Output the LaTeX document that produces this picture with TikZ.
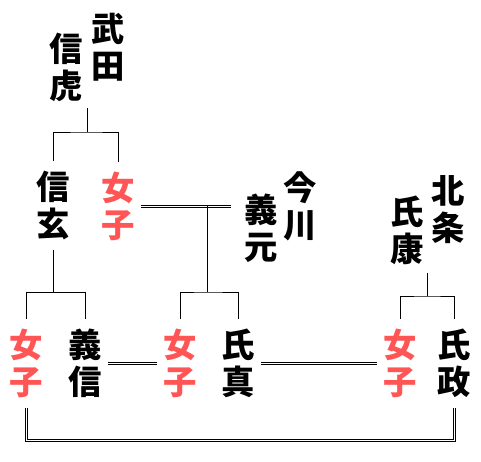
\documentclass[tikz,border=0pt]{standalone}
\usepackage{fontspec}
\newfontfamily\jpfont{Noto Sans CJK JP}
\definecolor{onnared}{RGB}{255,85,85}
\begin{document}
\begin{tikzpicture}[x=0.75pt,y=-0.75pt,line width=0.75pt,
		mei/.style={font=\jpfont\bfseries\fontsize{25}{27.75}\selectfont, align=center, inner xsep=4.5pt, inner ysep=0pt, minimum height=66pt},
		onna/.style={mei, text=onnared},
		kon/.style={draw, line width=0.75pt, double, double distance=0.75pt}]
	\useasboundingbox (0,0) rectangle (481,461);
	% Takeda
	\node[mei] (takeda) at (108,47) {武\\田};
	\node[mei] (nobutora) at (66,67) {信\\虎};
	\node[mei] (shingen) at (53,205.5) {信\\玄};
	\node[onna] (onnaA) at (118,206) {女\\子};
	% Imagawa, Hojo
	\node[mei] (imagawa) at (300,206) {今\\川};
	\node[mei] (yoshimoto) at (261,228) {義\\元};
	\node[mei] (hojo) at (448,210) {北\\条};
	\node[mei] (ujiyasu) at (407,230) {氏\\康};
	% children
	\node[onna] (onnaB) at (26,363) {女\\子};
	\node[mei] (yoshinobu) at (85,363) {義\\信};
	\node[onna] (onnaC) at (180,363) {女\\子};
	\node[mei] (ujizane) at (238,363) {氏\\真};
	\node[onna] (onnaD) at (400,363) {女\\子};
	\node[mei] (ujimasa) at (454,363) {氏\\政};
	% lines
	\coordinate (torafork) at (87,132);
	\draw (torafork) -- ++(0,-24);
	\draw (shingen.north) |- (torafork) -| (onnaA.north);
	\draw (shingen.south) -- ++(0,42.5) coordinate (genfork);
	\draw (onnaB.north) |- (genfork) -| (yoshinobu.north);
	\coordinate (imafork) at (207,292);
	\draw[kon] (onnaA.east) -- ([xshift=-5pt]onnaA.east -| yoshimoto.west);
	\draw (imafork |- onnaA.east) -- (imafork);
	\draw (onnaC.north) |- (imafork) -| (ujizane.north);
	\coordinate (hojofork) at (427,296);
	\draw (hojofork) -- ++(0,-23);
	\draw (onnaD.north) |- (hojofork) -| (ujimasa.north);
	\draw[kon] (yoshinobu.east) -- (onnaC.west);
	\draw[kon] (ujizane.east) -- (onnaD.west);
	\draw[kon] (onnaB.south) -- ++(0,33) -| (ujimasa.south);
\end{tikzpicture}
\end{document}
